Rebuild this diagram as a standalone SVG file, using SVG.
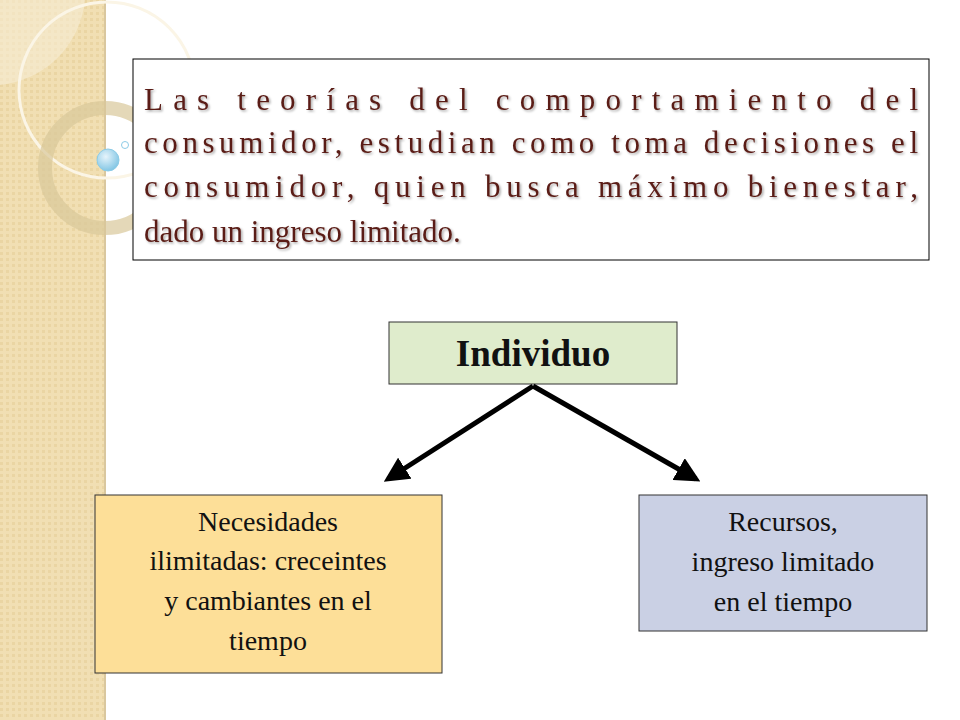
<svg xmlns="http://www.w3.org/2000/svg" width="960" height="720" viewBox="0 0 960 720">
<defs>
<pattern id="pat" width="6" height="6" patternUnits="userSpaceOnUse"><rect width="6" height="6" fill="#f1dfb3"/><rect width="3" height="3" fill="#ead5a3"/></pattern>
<filter id="sh"><feDropShadow dx="1.5" dy="1.5" stdDeviation="1" flood-color="#000" flood-opacity="0.35"/></filter>
<marker id="ah" viewBox="0 0 10 10" refX="8" refY="5" markerWidth="5" markerHeight="5" orient="auto"><path d="M0,0 L10,5 L0,10 z" fill="#000"/></marker>
<radialGradient id="ball" cx="0.4" cy="0.35" r="0.7"><stop offset="0" stop-color="#e6f4fb"/><stop offset="1" stop-color="#7cc3e3"/></radialGradient>
<style>
.top{font-family:"Liberation Serif","DejaVu Serif",serif;font-size:31px;fill:#5a1c16}
.lbl{font-family:"Liberation Serif","DejaVu Serif",serif;font-size:28px;fill:#111;text-anchor:middle}
.box{stroke:#333;stroke-width:1}
.conn{stroke:#000;stroke-width:5;fill:none;marker-end:url(#ah)}
</style>
</defs>
<rect width="960" height="720" fill="#fff"/>
<g id="decor">
<rect x="0" y="0" width="105" height="720" fill="url(#pat)"/>
<line x1="105" y1="0" x2="105" y2="720" stroke="#d9c79e" stroke-width="2"/>
<path d="M0,0 H85 A95,95 0 0 1 0,85 Z" fill="#f6ecd3" opacity="0.6"/>
<circle cx="107" cy="90" r="88" fill="none" stroke="#fbf5e6" stroke-width="3"/>
<circle cx="105" cy="168" r="60" fill="none" stroke="#d9c79a" stroke-width="14" opacity="0.7"/>
<circle cx="108" cy="160" r="11" fill="url(#ball)" stroke="#8ccbe6"/>
<circle cx="125" cy="145" r="3.5" fill="#fff" stroke="#8ccbe6"/>
</g>
<g id="intro">
<rect x="133" y="59" width="796" height="201" fill="#fff" stroke="#000" stroke-width="1"/>
<g class="top" filter="url(#sh)">
<text x="144" y="110" textLength="774" lengthAdjust="spacing">Las teorías del comportamiento del</text>
<text x="144" y="153" textLength="774" lengthAdjust="spacing">consumidor, estudian como toma decisiones el</text>
<text x="144" y="197" textLength="774" lengthAdjust="spacing">consumidor, quien busca máximo bienestar,</text>
<text x="144" y="242">dado un ingreso limitado.</text>
</g>
</g>
<g id="individuo">
<rect class="box" x="389" y="322" width="288" height="62" fill="#dfeccc"/>
<text x="533" y="366" class="lbl" style="font-size:37px;font-weight:bold">Individuo</text>
</g>
<g id="necesidades">
<rect class="box" x="95" y="495" width="347" height="178" fill="#fddf98"/>
<text class="lbl"><tspan x="268" y="531">Necesidades</tspan><tspan x="268" y="570">ilimitadas: creceintes</tspan><tspan x="268" y="610">y cambiantes en el</tspan><tspan x="268" y="650">tiempo</tspan></text>
</g>
<g id="recursos">
<rect class="box" x="639" y="495" width="288" height="136" fill="#cad0e4"/>
<text class="lbl"><tspan x="783" y="531">Recursos,</tspan><tspan x="783" y="571">ingreso limitado</tspan><tspan x="783" y="611">en el tiempo</tspan></text>
</g>
<g id="connectors">
<line class="conn" x1="533" y1="386" x2="388" y2="479"/>
<line class="conn" x1="533" y1="386" x2="696" y2="479"/>
</g>
</svg>
